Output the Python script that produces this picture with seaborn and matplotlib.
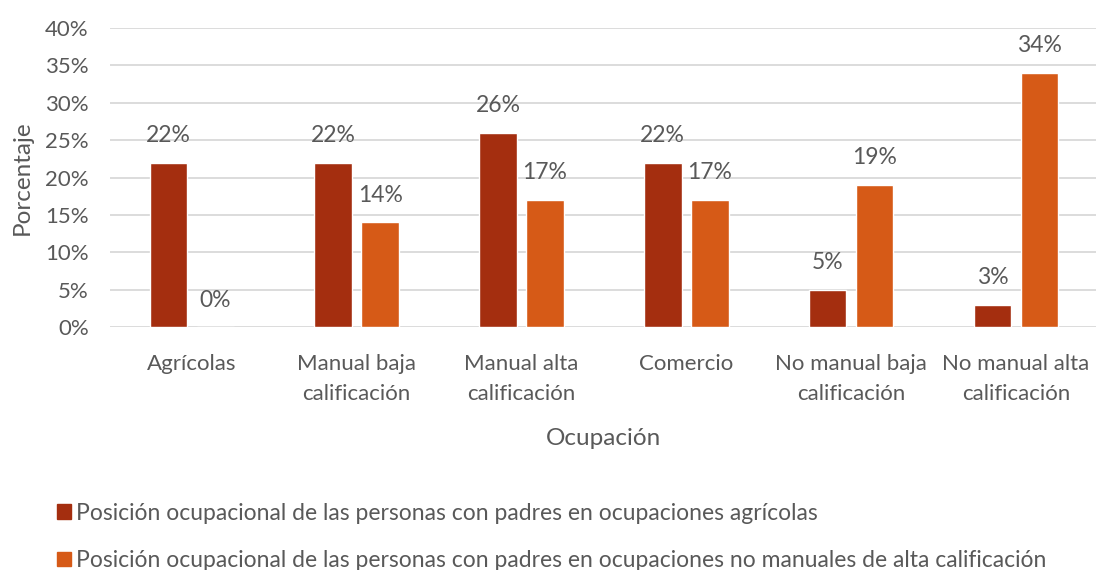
import matplotlib
matplotlib.use("Agg")
import matplotlib.pyplot as plt
import seaborn as sns
import pandas as pd

categorias = ["Agrícolas", "Manual baja\ncalificación", "Manual alta\ncalificación",
              "Comercio", "No manual baja\ncalificación", "No manual alta\ncalificación"]
serie_agricolas = [22, 22, 26, 22, 5, 3]
serie_no_manuales = [0, 14, 17, 17, 19, 34]
nombres = ["Posición ocupacional de las personas con padres en ocupaciones agrícolas",
           "Posición ocupacional de las personas con padres en ocupaciones no manuales de alta calificación"]
colores = ["#A42E0F", "#D65A17"]

sns.set_theme(style="white")
plt.rcParams['font.family'] = ['Lato', 'DejaVu Sans']
gris = "#595959"

df = pd.DataFrame({
    "Ocupación": categorias * 2,
    "valor": serie_agricolas + serie_no_manuales,
    "serie": [nombres[0]] * 6 + [nombres[1]] * 6,
})

fig = plt.figure(figsize=(10.96, 5.70), dpi=100)
ax = fig.add_axes([0.1, 0.426, 0.902, 0.525])
sns.barplot(data=df, x="Ocupación", y="valor", hue="serie", palette=colores,
            saturation=1, width=0.57, gap=0.2, ax=ax, legend=False)

ax.set_ylim(0, 40)
ax.set_yticks(range(0, 41, 5))
ax.set_yticklabels([f"{v}%" for v in range(0, 41, 5)], fontsize=16, color=gris)
for t in ax.get_xticklabels():
    t.set_linespacing(1.65)
ax.tick_params(axis="x", labelsize=16, labelcolor=gris, pad=19, length=0)
ax.tick_params(axis="y", length=0, pad=15)
ax.grid(axis="y", color="#D9D9D9", linewidth=1.3)
ax.set_axisbelow(True)
for s in ax.spines.values():
    s.set_visible(False)
ax.set_xlabel("Ocupación", fontsize=17.5, color=gris, labelpad=17)
ax.set_ylabel("Porcentaje", fontsize=17.5, color=gris, labelpad=9)

for cont in ax.containers:
    for bar in cont:
        h = bar.get_height()
        ax.annotate(f"{h:.0f}%", (bar.get_x() + bar.get_width() / 2, h),
                    xytext=(0, 19.5), textcoords="offset points",
                    ha="center", va="center", fontsize=16.5, color=gris)

handles = [plt.Rectangle((0, 0), 1, 1, color=c) for c in colores]
fig.legend(handles, nombres, loc="center left", bbox_to_anchor=(0.033, 0.058),
           bbox_transform=fig.transFigure, frameon=False, fontsize=16.5,
           labelcolor=gris, handlelength=0.6, handleheight=0.6,
           handletextpad=0.25, labelspacing=1.15)

fig.savefig("out.png", dpi=100)
